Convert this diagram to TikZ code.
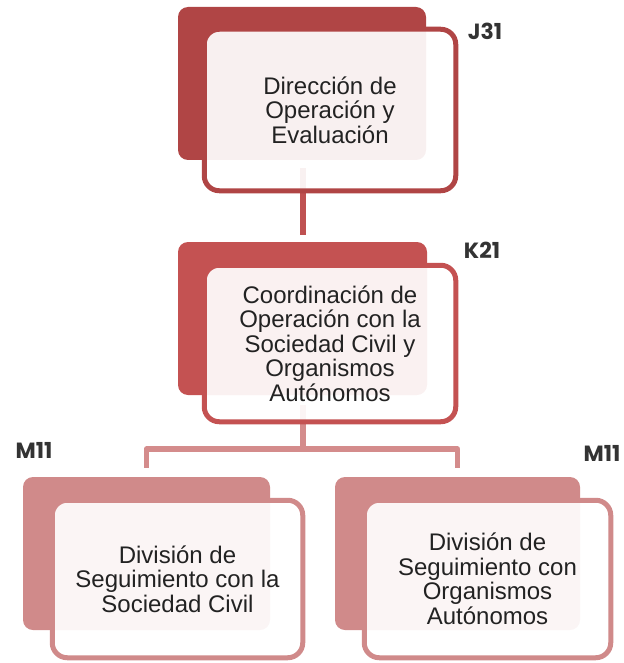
\documentclass[tikz,border=0pt]{standalone}
\usepackage{fontspec}
\setmainfont{Liberation Sans}
\newfontfamily\labfont{Poppins}
\definecolor{cA}{HTML}{B04545}
\definecolor{cB}{HTML}{C45252}
\definecolor{cC}{HTML}{D08A8A}
\definecolor{lineA}{HTML}{BF5151}
\definecolor{lineC}{HTML}{D48C8C}
\definecolor{txt}{HTML}{222222}
\definecolor{labc}{HTML}{333333}
\begin{document}
\begin{tikzpicture}[x=1pt,y=-1pt,
  backbox/.style n args={3}{rectangle, fill=#1, draw=none, rounded corners=10pt,
     inner sep=0pt, minimum width=#2, minimum height=#3},
  frontbox/.style n args={3}{rectangle, draw=#1, line width=5pt, fill=white,
     fill opacity=0.92, text opacity=1, rounded corners=15pt, inner sep=0pt,
     minimum width=#2, minimum height=#3, align=center, text=txt,
     font=\fontsize{24}{24.5}\selectfont},
  codelabel/.style={inner sep=0pt, text=labc, font=\labfont\bfseries\fontsize{22}{22}\selectfont},
  conn/.style={line width=5.5pt, draw=#1, line join=round}
]
\useasboundingbox (0,0) rectangle (623,663);

% back boxes
\node[backbox={cA}{248}{153}] (b1) at (302,83.5) {};
\node[backbox={cB}{249}{153}] (b2) at (302.5,318.5) {};
\node[backbox={cC}{247}{153}] (b3) at (146.5,553.5) {};
\node[backbox={cC}{245}{153}] (b4) at (457.5,553.5) {};

% connector anchor points
\coordinate (f1s) at (303,168);
\coordinate (f2s) at (303,405);
\coordinate (h) at (303,449);

% connectors
\draw[conn=lineA] (f1s) -- ([yshift=7pt]b2.north -| f1s);
\draw[conn=lineC] (f2s) -- (h);
\draw[conn=lineC] ([yshift=9pt]b3.north) |- (h) -| ([yshift=9pt]b4.north);

% front boxes
\node[frontbox={cA}{251.5}{161.5}] (f1) at (330,110)
  {Dirección de\\Operación y\\Evaluación};
\node[frontbox={cB}{251.5}{156.5}] (f2) at (330,343.5)
  {Coordinación de\\Operación con la\\Sociedad Civil y\\Organismos\\Autónomos};
\node[frontbox={cC}{250.5}{157.5}] (f3) at (177.5,579)
  {División de\\Seguimiento con la\\Sociedad Civil};
\node[frontbox={cC}{246.5}{157.5}] (f4) at (487.5,579)
  {División de\\Seguimiento con\\Organismos\\Autónomos};

% labels
\node[codelabel] (l1) at (485,31) {J31};
\node[codelabel] (l2) at (482,250) {K21};
\node[codelabel] (l3) at (34,450) {M11};
\node[codelabel] (l4) at (602,453) {M11};
\end{tikzpicture}
\end{document}
